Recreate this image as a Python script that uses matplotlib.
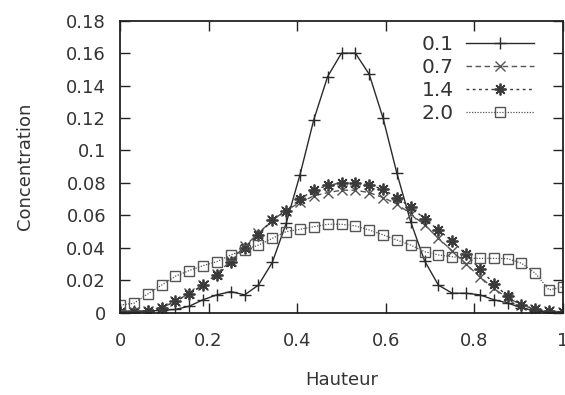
import numpy as np
import matplotlib
matplotlib.use("Agg")
from matplotlib import pyplot as plt

# hauteur : 33 points regulierement espaces sur [0, 1]
hauteur = np.linspace(0, 1, 33)

c_01 = [0.001, 0.001, 0.001, 0.0015, 0.002, 0.004, 0.008, 0.011, 0.013, 0.011,
        0.017, 0.031, 0.055, 0.085, 0.119, 0.1456, 0.160, 0.160, 0.147, 0.120,
        0.086, 0.056, 0.032, 0.017, 0.012, 0.012, 0.011, 0.008, 0.006, 0.003,
        0.001, 0.0005, 0.0005]
c_07 = [0.0002, 0.0005, 0.001, 0.003, 0.007, 0.012, 0.017, 0.024, 0.032, 0.041,
        0.049, 0.057, 0.063, 0.068, 0.072, 0.074, 0.0755, 0.0755, 0.074, 0.071,
        0.067, 0.061, 0.054, 0.046, 0.038, 0.030, 0.022, 0.015, 0.009, 0.005,
        0.002, 0.001, 0.0005]
c_14 = [0.0003, 0.0005, 0.001, 0.003, 0.007, 0.0115, 0.017, 0.023, 0.031, 0.040,
        0.048, 0.057, 0.063, 0.070, 0.0755, 0.0785, 0.080, 0.080, 0.079, 0.076,
        0.071, 0.065, 0.058, 0.051, 0.044, 0.036, 0.027, 0.018, 0.010, 0.005,
        0.002, 0.001, 0.0005]
c_20 = [0.0047, 0.0058, 0.0115, 0.017, 0.0225, 0.026, 0.029, 0.0315, 0.0356, 0.0387,
        0.0417, 0.0458, 0.050, 0.0514, 0.053, 0.0545, 0.0545, 0.0535, 0.051, 0.048,
        0.0448, 0.0417, 0.0376, 0.0356, 0.0345, 0.0335, 0.0335, 0.0335, 0.0333, 0.0305,
        0.0243, 0.014, 0.016]

labels = ["0.1", "0.7", "1.4", "2.0"]
xticks = [0, 0.2, 0.4, 0.6, 0.8, 1]
yticks = [0, 0.02, 0.04, 0.06, 0.08, 0.1, 0.12, 0.14, 0.16, 0.18]

plt.rcParams["font.family"] = ["DejaVu Sans"]
plt.rcParams["font.size"] = 13

fig = plt.figure(figsize=(5.65, 3.95), dpi=100)
ax = fig.add_axes([120 / 565, 1 - 312.7 / 395, 443 / 565, 292 / 395])

ax.plot(hauteur, c_01, color="#2a2a2a", lw=1.0, marker="+", ms=9, mew=1.0,
        label=labels[0])
ax.plot(hauteur, c_07, color="#555555", lw=1.0, dashes=(4, 2.5), marker="x", ms=7,
        mew=1.0, label=labels[1])
ax.plot(hauteur, c_14, color="#3a3a3a", lw=1.0, dashes=(2, 2.5), marker=(8, 2, 0),
        ms=8.5, mew=1.3, label=labels[2])
ax.plot(hauteur, c_20, color="#555555", lw=0.9, dashes=(1, 1.2), marker="s", ms=7,
        mfc="none", mew=1.0, label=labels[3])

ax.set_xlim(0, 1)
ax.set_ylim(0, 0.18)
ax.set_xticks(xticks)
ax.set_xticklabels(["0", "0.2", "0.4", "0.6", "0.8", "1"])
ax.set_yticks(yticks)
ax.set_yticklabels(["0", "0.02", "0.04", "0.06", "0.08", "0.1", "0.12", "0.14",
                    "0.16", "0.18"])
ax.tick_params(direction="in", length=7, width=1.0, top=True, right=True,
               colors="#222222", labelcolor="#333333")
ax.tick_params(axis="x", pad=14)
ax.tick_params(axis="y", pad=10)
for s in ax.spines.values():
    s.set_linewidth(1.3)
    s.set_color("#222222")

ax.set_xlabel("Hauteur", color="#333333")
ax.xaxis.set_label_coords(0.5, -0.20)
ax.set_ylabel("Concentration", color="#333333")
ax.yaxis.set_label_coords(-0.195, 0.5)

ax.legend(loc="upper right", bbox_to_anchor=(0.935, 0.95), frameon=False,
          markerfirst=False, numpoints=1, handlelength=3.4, handletextpad=0.6,
          labelspacing=0.2, borderpad=0, borderaxespad=0, labelcolor="#333333",
          fontsize=14.5)

fig.savefig("out.png", dpi=100)
